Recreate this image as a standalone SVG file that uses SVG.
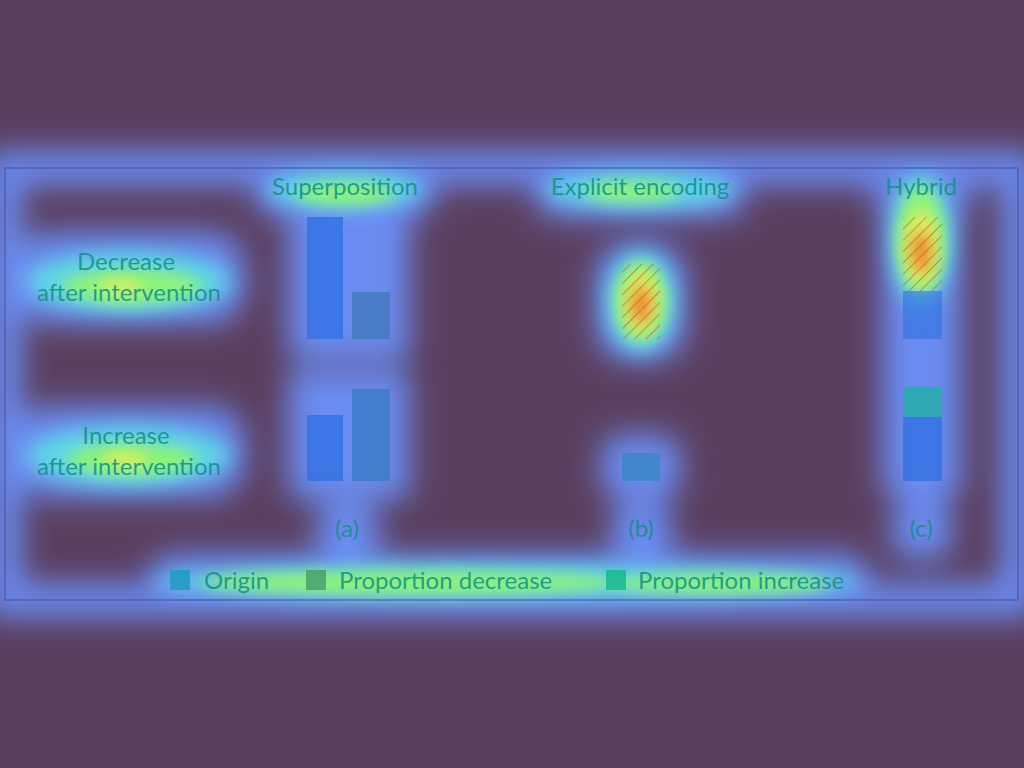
<svg xmlns="http://www.w3.org/2000/svg" width="1024" height="768" viewBox="0 0 1024 768">
<defs>
<style>
.t{font-family:Lato,"Open Sans","DejaVu Sans",sans-serif;font-size:24px;fill:#0f8f86;fill-opacity:0.85;text-anchor:middle}
.tl{font-family:Lato,"Open Sans","DejaVu Sans",sans-serif;font-size:24px;fill:#0f8f86;fill-opacity:0.85}
.halo{fill:#6a8cf2}
.cy{fill:#5fd8e6}
.gr{fill:#8ef27c}
.ye{fill:#d8f060}
.or{fill:#f08a30}
.bar{fill:#2f6fe0;fill-opacity:0.75}
</style>
<filter id="b1" x="-50%" y="-50%" width="200%" height="200%"><feGaussianBlur stdDeviation="15"/></filter>
<filter id="b2" x="-50%" y="-50%" width="200%" height="200%"><feGaussianBlur stdDeviation="10"/></filter>
<filter id="b3" x="-50%" y="-50%" width="200%" height="200%"><feGaussianBlur stdDeviation="7"/></filter>
<pattern id="hatch" width="8" height="8" patternUnits="userSpaceOnUse" patternTransform="rotate(45)">
<line x1="0" y1="0" x2="0" y2="8" stroke="#c05a2a" stroke-width="1.6" stroke-opacity="0.8"/>
</pattern>
</defs>
<rect width="1024" height="768" fill="#5b3f5f"/>
<g id="heat-halo" filter="url(#b1)">
<rect x="5" y="168" width="1013" height="432" fill="none" stroke="#6a8cf2" stroke-width="34"/>
<rect class="halo" x="15" y="232" width="230" height="92" rx="35"/>
<rect class="halo" x="15" y="406" width="230" height="92" rx="35"/>
<rect class="halo" x="255" y="158" width="180" height="58" rx="20"/>
<rect class="halo" x="288" y="200" width="122" height="160" rx="10"/>
<rect class="halo" x="288" y="370" width="122" height="130" rx="10"/>
<rect class="halo" x="316" y="503" width="64" height="56" rx="22"/>
<rect class="halo" x="535" y="158" width="210" height="60" rx="22"/>
<rect class="halo" x="596" y="243" width="90" height="118" rx="32"/>
<rect class="halo" x="601" y="434" width="80" height="66" rx="22"/>
<rect class="halo" x="611" y="503" width="62" height="56" rx="22"/>
<rect class="halo" x="874" y="158" width="96" height="62" rx="22"/>
<rect class="halo" x="882" y="200" width="80" height="302" rx="22"/>
<rect class="halo" x="891" y="503" width="62" height="56" rx="22"/>
<rect class="halo" x="150" y="554" width="718" height="46" rx="20"/>
</g>
<g id="heat-cyan" filter="url(#b2)">
<ellipse class="cy" cx="128" cy="282" rx="102" ry="30"/>
<ellipse class="cy" cx="128" cy="456" rx="102" ry="30"/>
<ellipse class="cy" cx="345" cy="190" rx="78" ry="18"/>
<ellipse class="cy" cx="640" cy="190" rx="95" ry="18"/>
<ellipse class="cy" cx="921" cy="240" rx="30" ry="66"/>
<ellipse class="cy" cx="641" cy="302" rx="34" ry="50"/>
<ellipse class="cy" cx="508" cy="582" rx="355" ry="16"/>
</g>
<g id="heat-green" filter="url(#b3)">
<ellipse class="gr" cx="132" cy="287" rx="70" ry="17"/>
<ellipse class="gr" cx="132" cy="460" rx="65" ry="16"/>
<ellipse class="gr" cx="345" cy="194" rx="50" ry="11"/>
<ellipse class="gr" cx="632" cy="192" rx="48" ry="10"/>
<ellipse class="gr" cx="921" cy="240" rx="24" ry="54"/>
<ellipse class="gr" cx="641" cy="302" rx="26" ry="40"/>
<ellipse class="gr" cx="410" cy="583" rx="210" ry="12"/>
<ellipse class="gr" cx="720" cy="584" rx="110" ry="10"/>
</g>
<g id="heat-hot" filter="url(#b3)">
<ellipse class="ye" cx="120" cy="288" rx="22" ry="8"/>
<ellipse class="ye" cx="125" cy="460" rx="22" ry="8"/>
<ellipse class="ye" cx="641" cy="302" rx="18" ry="32"/>
<ellipse class="ye" cx="921" cy="248" rx="18" ry="38"/>
<ellipse class="or" cx="641" cy="305" rx="11" ry="20"/>
<ellipse class="or" cx="921" cy="252" rx="11" ry="22"/>
</g>
<g id="frame">
<rect x="5" y="168" width="1013" height="432" fill="none" stroke="#3d4fae" stroke-width="1.2" stroke-opacity="0.8"/>
</g>
<g id="row-labels">
<text class="t" x="126" y="270">Decrease</text>
<text class="t" x="129" y="301">after intervention</text>
<text class="t" x="126" y="444">Increase</text>
<text class="t" x="129" y="475">after intervention</text>
</g>
<g id="col-superposition">
<text class="t" x="345" y="195">Superposition</text>
<rect class="bar" x="307" y="217" width="36" height="122"/>
<rect x="352" y="292" width="38" height="47" fill="#3f78b8" fill-opacity="0.75"/>
<rect class="bar" x="307" y="415" width="36" height="66"/>
<rect x="352" y="389" width="38" height="92" fill="#3a7cc6" fill-opacity="0.8"/>
<text class="t" x="347" y="537">(a)</text>
</g>
<g id="col-explicit">
<text class="t" x="640" y="195">Explicit encoding</text>
<rect x="622" y="264" width="38" height="75" fill="url(#hatch)"/>
<rect x="622" y="453" width="38" height="28" fill="#3a86c6" fill-opacity="0.8"/>
<text class="t" x="641" y="537">(b)</text>
</g>
<g id="col-hybrid">
<text class="t" x="921" y="195">Hybrid</text>
<rect x="903" y="217" width="39" height="74" fill="url(#hatch)"/>
<rect x="903" y="291" width="39" height="48" fill="#2f70e0" fill-opacity="0.6"/>
<rect x="903" y="387" width="39" height="30" fill="#22b0a6" fill-opacity="0.8"/>
<rect class="bar" x="903" y="417" width="39" height="64"/>
<text class="t" x="921" y="537">(c)</text>
</g>
<g id="legend">
<rect x="170" y="570" width="20" height="20" fill="#1f9cc0" fill-opacity="0.85"/>
<text class="tl" x="204" y="589">Origin</text>
<rect x="306" y="570" width="20" height="20" fill="#4aa068" fill-opacity="0.85"/>
<text class="tl" x="339" y="589">Proportion decrease</text>
<rect x="606" y="570" width="20" height="20" fill="#16b890" fill-opacity="0.85"/>
<text class="tl" x="638" y="589">Proportion increase</text>
</g>
</svg>
